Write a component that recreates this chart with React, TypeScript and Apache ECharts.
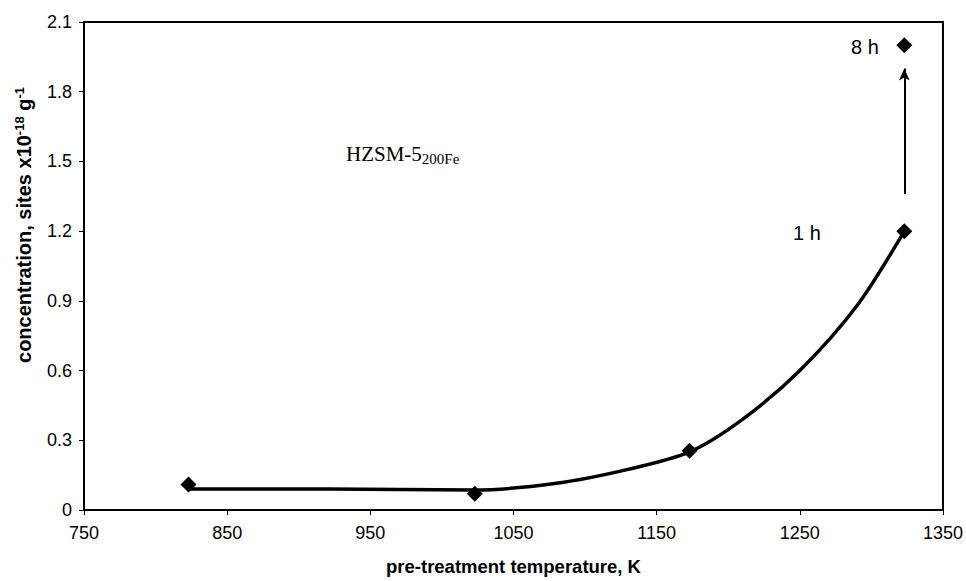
import React, { useEffect, useRef } from "react";
import * as echarts from "echarts";

const xTicks = [750, 850, 950, 1050, 1150, 1250, 1350];
const yTicks = [0, 0.3, 0.6, 0.9, 1.2, 1.5, 1.8, 2.1];
const temps1h = [823, 1023, 1173, 1323];
const conc1h = [0.11, 0.07, 0.255, 1.2];
const temp8h = [1323];
const conc8h = [2.0];
const curveX = [823, 920, 1023, 1080, 1130, 1173, 1210, 1250, 1290, 1323];
const curveY = [0.09, 0.09, 0.086, 0.115, 0.175, 0.25, 0.39, 0.6, 0.88, 1.2];
const arrowFrom = 1.36;
const arrowTo = 1.9;

export default function App() {
  const ref = useRef<HTMLDivElement>(null);
  useEffect(() => {
    const chart = echarts.init(ref.current!, null, { renderer: "svg" });
    const font = "Liberation Sans, Arial, sans-serif";
    const serif = "Liberation Serif, Times New Roman, serif";
    chart.setOption({
      animation: false,
      backgroundColor: "#fff",
      grid: { left: 84, right: 23, top: 22, bottom: 69, show: true, borderColor: "#000", borderWidth: 2, backgroundColor: "transparent" },
      xAxis: {
        type: "value",
        min: xTicks[0],
        max: xTicks[xTicks.length - 1],
        interval: 100,
        name: "pre-treatment temperature, K",
        nameLocation: "middle",
        nameGap: 47,
        nameTextStyle: { fontFamily: font, fontWeight: "bold", fontSize: 18.5, color: "#000" },
        axisLine: { show: true, lineStyle: { color: "#000", width: 2 } },
        axisTick: { show: true, length: 5, lineStyle: { color: "#000", width: 1 } },
        axisLabel: { fontFamily: font, fontSize: 18, color: "#000", margin: 14, formatter: (v: number) => String(v) },
        splitLine: { show: false },
      },
      yAxis: {
        type: "value",
        min: yTicks[0],
        max: yTicks[yTicks.length - 1],
        interval: 0.3,
        axisLine: { show: true, lineStyle: { color: "#000", width: 2 } },
        axisTick: { show: true, length: 5, lineStyle: { color: "#000", width: 1 } },
        axisLabel: {
          fontFamily: font,
          fontSize: 18,
          color: "#000",
          margin: 12,
          formatter: (v: number) => (v === 0 ? "0" : v.toFixed(1)),
        },
        splitLine: { show: false },
      },
      series: [
        {
          type: "line",
          data: curveX.map((x, i) => [x, curveY[i]]),
          smooth: 0.3,
          symbol: "none",
          lineStyle: { color: "#000", width: 3.5 },
          silent: true,
          z: 2,
        },
        {
          type: "scatter",
          data: temps1h.map((x, i) => [x, conc1h[i]]),
          symbol: "diamond",
          symbolSize: 16,
          itemStyle: { color: "#000", opacity: 1 },
          z: 3,
          markLine: {
            silent: true,
            symbol: ["none", "arrow"],
            symbolSize: [8, 12],
            label: { show: false },
            lineStyle: { color: "#000", width: 2, type: "solid", opacity: 1 },
            data: [[{ coord: [temp8h[0], arrowFrom] }, { coord: [temp8h[0], arrowTo] }]],
          },
        },
        {
          type: "scatter",
          data: temp8h.map((x, i) => [x, conc8h[i]]),
          symbol: "diamond",
          symbolSize: 16,
          itemStyle: { color: "#000", opacity: 1 },
          z: 3,
        },
      ],
      graphic: [
        {
          type: "text",
          x: 24,
          y: 225,
          rotation: Math.PI / 2,
          style: {
            text: "{a|concentration, sites x10}{s|-18}{a| g}{s|-1}",
            align: "center",
            verticalAlign: "middle",
            rich: {
              a: { fontFamily: font, fontWeight: "bold", fontSize: 20, fill: "#000" },
              s: { fontFamily: font, fontWeight: "bold", fontSize: 13, fill: "#000", verticalAlign: "top", padding: [0, 0, 9, 0] },
            },
          },
        },
        {
          type: "text",
          left: 346,
          top: 143,
          style: {
            text: "{m|HZSM-5}{s|200Fe}",
            rich: {
              m: { fontFamily: serif, fontSize: 21, fill: "#000" },
              s: { fontFamily: serif, fontSize: 15, fill: "#000", verticalAlign: "bottom", padding: [10, 0, 0, 0] },
            },
          },
        },
        { type: "text", left: 851, top: 37, style: { text: "8 h", fontFamily: font, fontSize: 20, fill: "#000" } },
        { type: "text", left: 793, top: 223, style: { text: "1 h", fontFamily: font, fontSize: 20, fill: "#000" } },
      ],
    });
    return () => chart.dispose();
  }, []);
  return <div ref={ref} style={{ width: 966, height: 581, position: "absolute", left: 0, top: 0 }} />;
}
